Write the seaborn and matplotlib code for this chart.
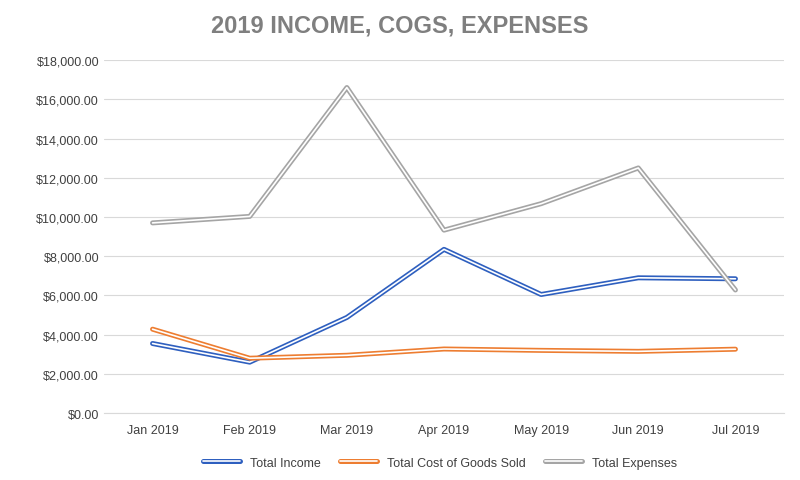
import matplotlib
matplotlib.use("Agg")
import matplotlib.pyplot as plt
import seaborn as sns
import pandas as pd

months = ["Jan 2019", "Feb 2019", "Mar 2019", "Apr 2019", "May 2019", "Jun 2019", "Jul 2019"]
income = [3550, 2600, 4880, 8350, 6050, 6900, 6850]
cogs = [4280, 2800, 2950, 3270, 3200, 3150, 3260]
expenses = [9700, 10030, 16600, 9330, 10680, 12500, 6280]

series = {"Total Income": (income, "#2e5fbf"),
          "Total Cost of Goods Sold": (cogs, "#ed7d31"),
          "Total Expenses": (expenses, "#a5a5a5")}

sns.set_style("white")
plt.rcParams["font.family"] = ["Liberation Sans", "DejaVu Sans"]
fig, ax = plt.subplots(figsize=(8, 4.81), dpi=100)
fig.subplots_adjust(left=0.13, right=0.98, top=0.873, bottom=0.139)

df = pd.DataFrame({"month": months})
for name, (vals, col) in series.items():
    df[name] = vals
    sns.lineplot(data=df, x="month", y=name, color=col, linewidth=3.6, ax=ax, sort=False)
    sns.lineplot(data=df, x="month", y=name, color="white", linewidth=1.2, ax=ax, sort=False)

ax.set_ylim(0, 18000)
ax.set_yticks(range(0, 18001, 2000))
ax.set_yticklabels([f"${v:,.2f}" for v in range(0, 18001, 2000)], fontsize=9, color="#404040")
ax.set_xlim(-0.5, 6.5)
ax.tick_params(axis="x", labelsize=9, labelcolor="#404040", length=0, pad=8)
ax.tick_params(axis="y", length=0)
ax.grid(axis="y", color="#d9d9d9", linewidth=0.8)
ax.set_axisbelow(True)
ax.set_xlabel("")
ax.set_ylabel("")
for s in ["top", "right", "left"]:
    ax.spines[s].set_visible(False)
ax.spines["bottom"].set_color("#d9d9d9")

from matplotlib.lines import Line2D
handles = [(Line2D([], [], color=c, lw=3.6), Line2D([], [], color="white", lw=1.2)) for _, c in series.values()]
fig.legend(handles, list(series.keys()), loc="lower center", ncol=3, frameon=False,
           fontsize=9, bbox_to_anchor=(0.55, 0.0), handlelength=3, columnspacing=1.5,
           labelcolor="#404040")

fig.suptitle("2019 INCOME, COGS, EXPENSES", y=0.97, fontsize=17, fontweight="bold",
             color="#7f7f7f")
fig.savefig("out.png")
